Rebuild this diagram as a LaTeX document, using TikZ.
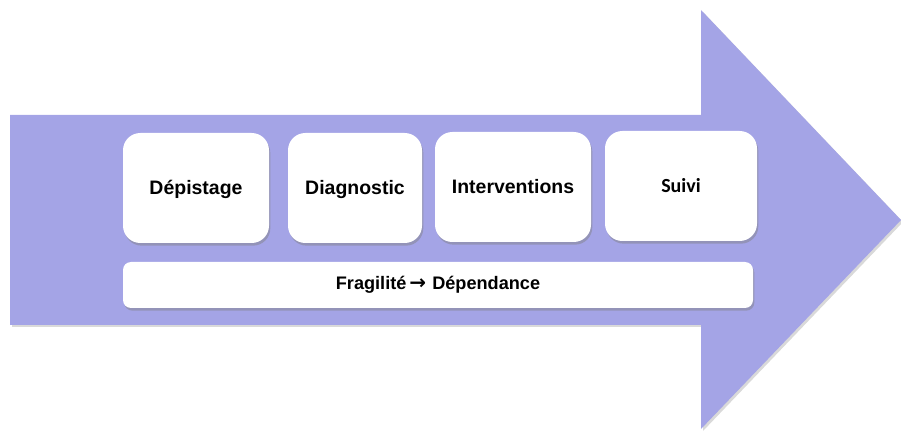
\documentclass[tikz,border=0pt]{standalone}
\usepackage{fontspec}
\setmainfont{Liberation Sans}
\newfontfamily\suivifont{Carlito}
\newfontfamily\symbfont{DejaVu Sans}
\usetikzlibrary{shadows,positioning}
\definecolor{arrowcol}{RGB}{164,164,230}

\begin{document}
\begin{tikzpicture}[x=0.75pt,y=-0.75pt,line join=miter,
  stepbox/.style={draw=none,fill=white,rounded corners=13pt,inner sep=0pt,
    minimum height=82.5pt,text height=11pt,text depth=0.5pt,
    font=\bfseries\fontsize{14.6}{16}\selectfont,
    drop shadow={opacity=0.45,shadow xshift=1pt,shadow yshift=-2pt}},
  barbox/.style={draw=none,fill=white,rounded corners=6pt,inner sep=0pt,
    minimum width=472.5pt,minimum height=34.5pt,font=\bfseries\fontsize{13.6}{15}\selectfont,
    drop shadow={opacity=0.45,shadow xshift=1pt,shadow yshift=-2pt}}]
\useasboundingbox (0,0) rectangle (901,431);

% Shape: big arrow
\fill [arrowcol,drop shadow={opacity=0.3,shadow xshift=1.5pt,shadow yshift=-1.5pt}]
  (10,115) -- (701,115) -- (701,10) -- (901,220) -- (701,429) -- (701,325) -- (10,325) -- cycle;

% Node: depistage
\node [stepbox,minimum width=109.5pt] (depistage) at (196,188) {Dépistage};

% Node: diagnostic
\node [stepbox,minimum width=100.5pt] (diagnostic) at (355,188) {Diagnostic};

% Node: interventions
\node [stepbox,minimum width=117pt] (interventions) at (513,187) {Interventions};

% Node: suivi
\node [stepbox,minimum width=114pt,font=\suivifont\bfseries\fontsize{15}{17}\selectfont] (suivi) at (681,186) {Suivi};

% Node: fragilite
\node [barbox] (fragilite) at (438,285) {Fragilité\,{\symbfont\bfseries\fontsize{15}{15}\selectfont →}\,\,Dépendance};
%
\end{tikzpicture}
\end{document}
